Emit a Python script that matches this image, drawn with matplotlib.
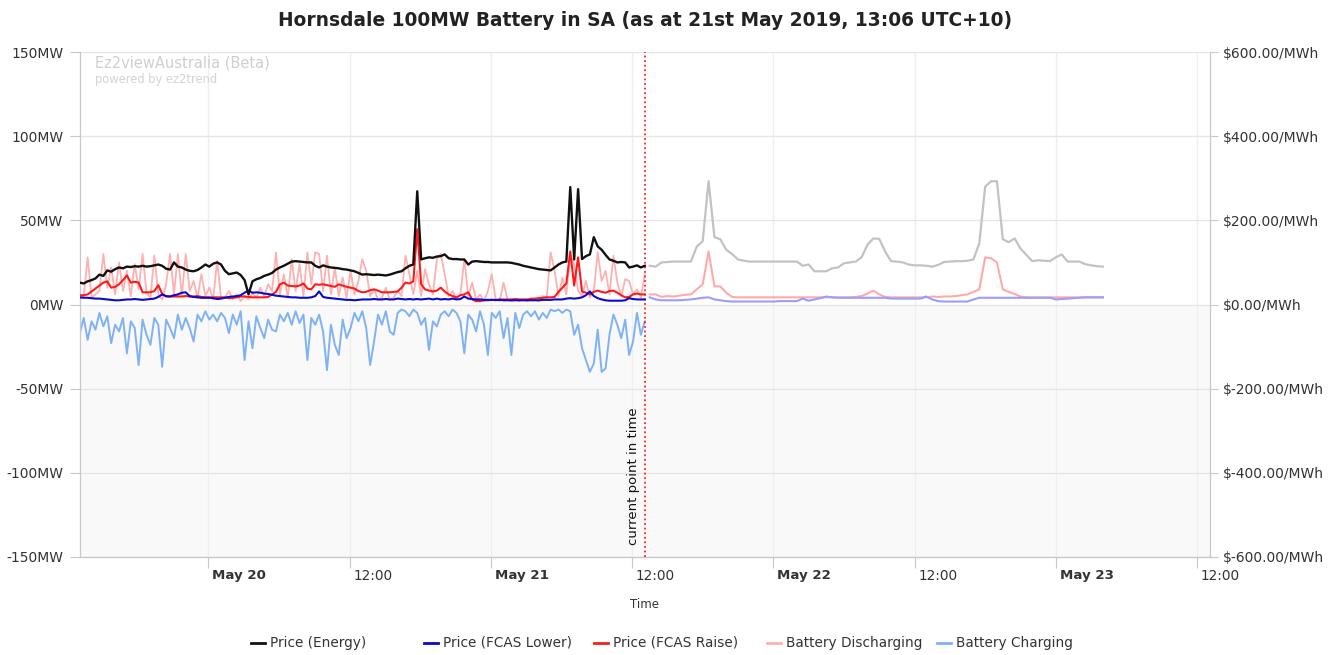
import matplotlib
matplotlib.use("Agg")
import matplotlib.pyplot as plt
import matplotlib.dates as mdates
from matplotlib.lines import Line2D
import pandas as pd

# ---------------- data ----------------
hist_start = "2019-05-19 13:05"   # 20-minute history
fc_start = "2019-05-21 13:30"     # 30-minute forecast

energy_hist = [52, 50, 55, 58, 62, 71, 68, 81, 78, 84, 88, 86, 90, 89, 91, 90, 92, 90, 91, 93, 95, 92, 85, 83, 100, 90, 88, 83, 80, 79, 82, 88, 95, 90, 97, 100,
               95, 80, 72, 74, 76, 70, 58, 24, 55, 60, 63, 68, 71, 75, 83, 88, 92, 97, 102, 103, 102, 101, 100, 100, 92, 88, 93, 90, 88, 87, 86, 84, 83, 81, 79, 75, 71,
               72, 71, 70, 71, 70, 69, 71, 74, 77, 79, 86, 92, 95, 269, 107, 110, 112, 111, 114, 115, 119, 110, 108, 108, 107, 107, 95, 102, 103, 102, 101, 101, 100, 100, 100,
               100, 100, 99, 97, 95, 92, 90, 88, 86, 84, 83, 82, 81, 88, 95, 100, 102, 279, 107, 274, 108, 115, 119, 160, 138, 130, 118, 107, 104, 100, 101, 100, 88, 90, 93, 88, 92]

raise_hist = [22, 22, 24, 31, 38, 45, 52, 55, 40, 42, 48, 58, 69, 52, 54, 52, 29, 29, 29, 32, 46, 25, 19, 19, 19, 19, 19, 20, 19, 19, 20, 18, 17, 17, 17, 17, 17,
              17, 15, 16, 17, 19, 19, 18, 17, 17, 17, 17, 18, 24, 30, 48, 52, 45, 44, 43, 45, 50, 38, 36, 48, 47, 48, 46, 44, 42, 48, 45, 42, 40, 38, 32, 29,
              30, 34, 36, 33, 29, 29, 29, 30, 31, 40, 52, 50, 55, 179, 48, 36, 33, 31, 33, 40, 31, 24, 20, 17, 22, 24, 29, 12, 8, 8, 10, 10, 11, 10, 12,
              12, 12, 12, 13, 12, 12, 12, 13, 14, 15, 16, 17, 17, 18, 30, 40, 50, 126, 45, 112, 31, 28, 24, 30, 33, 30, 28, 32, 33, 28, 22, 17, 18, 24, 26, 24, 24]

lower_hist = [17, 16, 16, 15, 14, 14, 13, 12, 11, 10, 10, 11, 12, 12, 13, 12, 11, 12, 13, 14, 18, 24, 20, 19, 22, 24, 28, 29, 20, 18, 17, 16, 16, 16, 15, 13, 14,
              16, 18, 19, 20, 22, 28, 33, 28, 29, 28, 26, 25, 23, 21, 20, 19, 18, 17, 17, 16, 16, 16, 17, 20, 31, 18, 16, 15, 14, 13, 12, 11, 11, 10, 11, 12,
              12, 12, 13, 12, 12, 13, 12, 12, 14, 13, 12, 13, 12, 13, 12, 13, 14, 12, 14, 12, 13, 12, 14, 12, 13, 19, 14, 13, 12, 12, 11, 11, 11, 11, 11,
              10, 10, 10, 10, 10, 10, 10, 10, 10, 10, 11, 11, 11, 12, 12, 12, 14, 15, 14, 15, 17, 22, 31, 20, 15, 12, 10, 9, 9, 9, 9, 10, 15, 13, 12, 12, 12]

discharge_hist = [3, 5, 28, 4, 6, 8, 30, 10, 22, 6, 25, 8, 20, 5, 24, 9, 30, 7, 4, 29, 6, 3, 12, 30, 6, 30, 5, 30, 8, 14, 4, 18, 5, 10, 3, 26, 4,
                  4, 8, 3, 6, 2, 5, 3, 7, 4, 10, 5, 12, 8, 31, 6, 18, 4, 27, 8, 24, 5, 31, 12, 31, 30, 8, 29, 6, 22, 5, 16, 4, 20, 6, 14, 27,
                  20, 5, 9, 3, 4, 10, 3, 4, 8, 5, 29, 18, 6, 20, 5, 21, 12, 6, 27, 30, 18, 5, 8, 3, 6, 27, 5, 13, 3, 6, 2, 8, 18, 3, 2,
                  13, 3, 2, 3, 2, 3, 2, 4, 3, 2, 5, 4, 31, 20, 5, 16, 6, 29, 24, 8, 5, 14, 4, 8, 31, 14, 20, 6, 29, 13, 5, 15, 14, 6, 9, 4, 18]

charge_hist = [-17, -8, -21, -10, -15, -5, -13, -7, -23, -12, -16, -8, -29, -10, -14, -36, -9, -18, -24, -8, -12, -37, -9, -14, -20, -6, -15, -8, -14, -22, -6, -10, -4, -9, -6, -10, -5,
               -8, -17, -6, -12, -4, -33, -10, -26, -7, -14, -20, -9, -15, -16, -6, -10, -5, -12, -4, -11, -6, -33, -8, -12, -6, -16, -39, -12, -24, -30, -9, -20, -14, -5, -10, -4,
               -14, -36, -22, -6, -12, -4, -16, -18, -5, -3, -4, -7, -3, -5, -12, -8, -27, -10, -13, -6, -4, -7, -3, -5, -10, -29, -6, -9, -16, -4, -12, -30, -5, -8, -4,
               -20, -8, -30, -5, -14, -6, -4, -7, -4, -9, -5, -8, -3, -4, -3, -5, -3, -4, -18, -12, -26, -33, -40, -35, -15, -40, -38, -18, -6, -12, -20, -9, -30, -22, -5, -18, -10]

energy_fc = [92, 90, 100, 101, 102, 102, 102, 102, 138, 150,
             293, 160, 155, 130, 120, 107, 104, 102, 102, 102,
             102, 102, 102, 102, 102, 102, 92, 95, 79, 79,
             79, 86, 88, 98, 100, 102, 112, 142, 157, 156,
             126, 103, 102, 100, 95, 93, 93, 92, 90, 94,
             101, 102, 103, 103, 104, 107, 145, 280, 293, 293,
             155, 148, 157, 133, 118, 103, 105, 104, 103, 112,
             119, 102, 102, 102, 96, 93, 91, 90]

raise_fc = [24, 24, 18, 20, 19, 21, 23, 24, 36, 48,
            126, 43, 43, 28, 18, 17, 17, 17, 17, 17,
            17, 17, 17, 17, 17, 17, 17, 17, 17, 17,
            17, 17, 17, 17, 17, 18, 20, 26, 33, 24,
            18, 17, 17, 17, 17, 17, 17, 17, 19, 18,
            19, 19, 20, 22, 24, 30, 36, 112, 110, 100,
            36, 30, 25, 19, 17, 17, 17, 17, 17, 17,
            17, 17, 17, 17, 17, 17, 17, 17]

lower_fc = [17, 12, 10, 10, 10, 10, 11, 12, 14, 16,
            17, 12, 10, 8, 7, 7, 7, 7, 7, 7,
            7, 7, 8, 8, 8, 8, 14, 9, 12, 15,
            19, 17, 16, 16, 16, 16, 16, 16, 16, 16,
            16, 14, 14, 14, 14, 14, 14, 19, 12, 8,
            7, 7, 7, 7, 7, 12, 16, 16, 16, 16,
            16, 16, 16, 16, 16, 16, 16, 16, 16, 12,
            13, 14, 15, 16, 17, 17, 17, 17]

mw_ticks = [-150, -100, -50, 0, 50, 100, 150]
price_ticks = [-600, -400, -200, 0, 200, 400, 600]
legend_labels = ["Price (Energy)", "Price (FCAS Lower)", "Price (FCAS Raise)",
                 "Battery Discharging", "Battery Charging"]
title = "Hornsdale 100MW Battery in SA (as at 21st May 2019, 13:06 UTC+10)"
now_time = "2019-05-21 13:06"
x_start, x_end = "2019-05-19 13:06", "2019-05-23 13:06"

# ---------------- figure ----------------
W, H = 1338, 655
fig = plt.figure(figsize=(W / 100, H / 100), dpi=100)
L, R, T, B = 80, 1210, 52, 557
ax = fig.add_axes([L / W, 1 - B / H, (R - L) / W, (B - T) / H])
ax2 = ax.twinx()

t_hist = pd.date_range(hist_start, periods=len(energy_hist), freq="20min")
t_fc = pd.date_range(fc_start, periods=len(energy_fc), freq="30min")

c_black = "#111111"
c_lower = "#0a0acc"
c_raise = "#ff1a1a"
c_dis = "#ffb0b0"
c_chg = "#7fb2f5"

ax.axhspan(-150, 0, color="#f9f9f9", zorder=0, lw=0)
ax.plot(t_hist, discharge_hist, color=c_dis, lw=1.3, zorder=3)
ax.plot(t_hist, charge_hist, color=c_chg, lw=1.4, zorder=3)
ax.set_ylim(-150, 150)
ax.set_yticks(mw_ticks)
ax.set_yticklabels([f"{v}MW" for v in mw_ticks])

ax2.plot(t_fc, energy_fc, color="#c2c2c2", lw=1.6, zorder=2)
ax2.plot(t_fc, raise_fc, color="#ffaaaa", lw=1.5, zorder=2)
ax2.plot(t_fc, lower_fc, color="#9c9cff", lw=1.5, zorder=2)
ax2.plot(t_hist, raise_hist, color=c_raise, lw=1.5, zorder=3)
ax2.plot(t_hist, lower_hist, color=c_lower, lw=1.5, zorder=4)
ax2.plot(t_hist, energy_hist, color=c_black, lw=1.7, zorder=5)
ax2.set_ylim(-600, 600)
ax2.set_yticks(price_ticks)
ax2.set_yticklabels([f"${v:.2f}/MWh" for v in price_ticks])

ax.set_xlim(pd.Timestamp(x_start), pd.Timestamp(x_end))

# grid
ax.grid(axis="y", color="#e6e6e6", lw=1, zorder=1)
ax.grid(axis="x", color="#efefef", lw=1, zorder=1)
ax.set_axisbelow(True)

# x ticks
xt = pd.date_range("2019-05-20 00:00", periods=8, freq="12h")
ax.set_xticks(xt)
ax.set_xticklabels(["" for _ in xt])
for t in xt:
    lab = t.strftime("%b %-d") if t.hour == 0 else t.strftime("%H:%M")
    bold = t.hour == 0
    ax.annotate(lab, xy=(mdates.date2num(t), 0), xycoords=("data", "axes fraction"),
                xytext=(4, -19), textcoords="offset pixels", ha="left", va="center",
                fontsize=9.8 if not bold else 9.6, fontweight="bold" if bold else "normal",
                color="#333333")

for a in (ax, ax2):
    a.spines["top"].set_visible(False)
    a.spines["left"].set_color("#c8c8c8")
    a.spines["right"].set_color("#c8c8c8")
    a.spines["bottom"].set_color("#c8c8c8")
ax.tick_params(axis="y", length=7, color="#c8c8c8", labelsize=10, labelcolor="#333333", pad=5)
ax2.tick_params(axis="y", length=6, color="#c8c8c8", labelsize=10, labelcolor="#333333", pad=3)
ax.tick_params(axis="x", length=8, color="#c8c8c8")

# current time marker
tn = pd.Timestamp(now_time)
ax.axvline(tn, color="#ff0000", lw=1.1, ls=(0, (1.2, 1.8)), zorder=6)
ax.annotate("current point in time", xy=(mdates.date2num(tn), -143), xycoords="data",
            xytext=(-5, 0), textcoords="offset pixels", rotation=90,
            ha="right", va="bottom", fontsize=9.5, color="#111111")

# watermark
fig.text(95 / W, 1 - 63 / H, "Ez2viewAustralia (Beta)", fontsize=10.5, color="#cfcfcf",
         ha="left", va="center")
fig.text(95 / W, 1 - 80 / H, "powered by ez2trend", fontsize=8.3, color="#d4d4d4",
         ha="left", va="center")

fig.text(645 / W, 1 - 20 / H, title, fontsize=13.4, fontweight="bold",
         color="#222222", ha="center", va="center")
fig.text(644 / W, 1 - 604 / H, "Time", fontsize=8.5, color="#333333", ha="center", va="center")

# legend
leg_colors = [c_black, c_lower, c_raise, c_dis, c_chg]
leg_x = [251, 424, 594, 767, 937]
ly = 1 - 643 / H
for xx, col, lab in zip(leg_x, leg_colors, legend_labels):
    fig.add_artist(Line2D([xx / W, (xx + 14) / W], [ly, ly], transform=fig.transFigure,
                          color=col, lw=2))
    fig.text((xx + 19) / W, ly, lab, fontsize=9.8, color="#333333", ha="left", va="center")

fig.savefig("out.png", dpi=100, facecolor="white")
